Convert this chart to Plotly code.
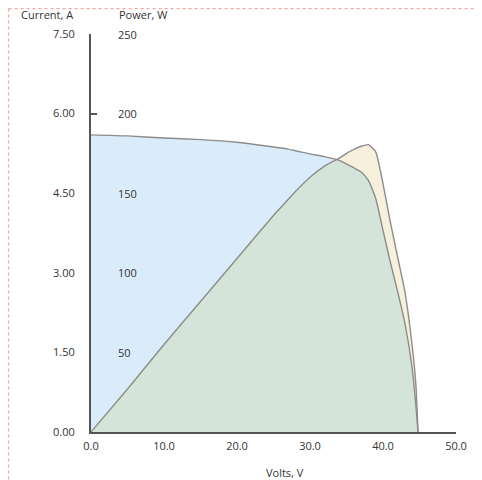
import plotly.graph_objects as go

# ---- data ----
volts = [0, 5, 10, 15, 20, 25, 27, 28, 30, 32, 34, 35, 36, 37, 38, 39, 40, 41, 42, 43, 44, 44.5, 44.8]
current = [5.60, 5.58, 5.54, 5.51, 5.46, 5.37, 5.33, 5.30, 5.24, 5.19, 5.12, 5.05, 4.98, 4.90,
           4.74, 4.40, 3.80, 3.20, 2.65, 2.05, 1.20, 0.50, 0.0]
power = [0, 27, 55, 82, 109, 136, 146, 151, 160, 167, 172, 175, 177.5, 179.5, 180.5, 176,
         156, 132, 110, 88, 54, 30, 0]

x_ticks = [0, 10, 20, 30, 40, 50]
current_ticks = [0, 1.5, 3.0, 4.5, 6.0, 7.5]
power_ticks = [50, 100, 150, 200, 250]
I_MAX = 7.5
P_MAX = 250

# ---- geometry (reference pixel coords; the page body adds an 8px offset) ----
OFF = 8
W, H = 482 - OFF, 480 - OFF
AX_L, AX_R, AX_T, AX_B = 91, 456, 34, 432  # plot area in reference pixels
L, R, T, B = AX_L - OFF, W - (AX_R - OFF), AX_T - OFF, H - (AX_B - OFF)
PW, PH = W - L - R, H - T - B


def px(x):
    return (x - OFF - L) / PW


def py(y):
    return (H - B - (y - OFF)) / PH


scale = P_MAX / I_MAX
current_w = [i * scale for i in current]
overlap = [min(c, p) for c, p in zip(current_w, power)]

BLUE = "#daecf9"
CREAM = "#f6f0dc"
MIX = "#d5e4d9"
LINE = "#8c8c8c"
AX = "#555555"
TXT = "#333333"
FONT = "Open Sans"

fig = go.Figure()
fig.add_trace(go.Scatter(x=volts, y=current, mode="lines", fill="tozeroy",
                         fillcolor=BLUE, line=dict(width=0, shape="spline", smoothing=0.5),
                         hoverinfo="skip", xaxis="x", yaxis="y"))
fig.add_trace(go.Scatter(x=volts, y=power, mode="lines", fill="tozeroy",
                         fillcolor=CREAM, line=dict(width=0, shape="spline", smoothing=0.5),
                         hoverinfo="skip", xaxis="x", yaxis="y2"))
fig.add_trace(go.Scatter(x=volts, y=overlap, mode="lines", fill="tozeroy",
                         fillcolor=MIX, line=dict(width=0), hoverinfo="skip",
                         xaxis="x", yaxis="y2"))
fig.add_trace(go.Scatter(x=volts, y=power, mode="lines",
                         line=dict(color=LINE, width=1.4, shape="spline", smoothing=0.5),
                         xaxis="x", yaxis="y2"))
fig.add_trace(go.Scatter(x=volts, y=current_w, mode="lines",
                         line=dict(color=LINE, width=1.4, shape="spline", smoothing=0.5),
                         xaxis="x", yaxis="y2"))
# invisible trace so the tick-only axes render
fig.add_trace(go.Scatter(x=[None], y=[None], xaxis="x2", yaxis="y3", showlegend=False))

tickfont = dict(family=FONT, size=11, color=TXT)

fig.update_layout(
    width=W, height=H,
    margin=dict(l=L, r=R, t=T, b=B, pad=0, autoexpand=False),
    paper_bgcolor="white", plot_bgcolor="white",
    showlegend=False,
    font=dict(family=FONT, size=11, color=TXT),
    xaxis=dict(range=[0, 50], tickvals=x_ticks, ticktext=[f"{v:.1f}" for v in x_ticks],
               showline=True, linecolor=AX, linewidth=2, ticks="", showgrid=False,
               zeroline=False, tickfont=tickfont, ticklabelstandoff=3),
    xaxis2=dict(range=[0, 50], overlaying="x", anchor="y", side="bottom", tickvals=[50],
                ticks="inside", ticklen=7, tickwidth=2, tickcolor=AX,
                showticklabels=False, showline=False, showgrid=False, zeroline=False),
    yaxis=dict(range=[0, I_MAX], tickvals=current_ticks,
               ticktext=[f"{v:.2f}" for v in current_ticks],
               showline=True, linecolor=AX, linewidth=2, ticks="", showgrid=False,
               zeroline=False, tickfont=tickfont, ticklabelstandoff=12),
    yaxis2=dict(range=[0, P_MAX], overlaying="y", anchor="x", side="left",
                showticklabels=False, ticks="", visible=False,
                showline=False, showgrid=False, zeroline=False),
    yaxis3=dict(range=[0, I_MAX], overlaying="y", anchor="x", side="left",
                tickvals=[6.0, 7.5], ticks="inside", ticklen=6, tickwidth=2, tickcolor=AX,
                showticklabels=False, showline=False, showgrid=False, zeroline=False),
)

# power-axis labels placed on the power scale
for p in power_ticks:
    fig.add_annotation(text=str(p), xref="paper", yref="y2", x=px(116), y=p,
                       xanchor="left", yanchor="middle", showarrow=False, font=tickfont)

fig.add_annotation(text="Current, A", xref="paper", yref="paper", x=px(47), y=py(14),
                   xanchor="center", yanchor="middle", showarrow=False, font=tickfont)
fig.add_annotation(text="Power, W", xref="paper", yref="paper", x=px(143), y=py(14),
                   xanchor="center", yanchor="middle", showarrow=False, font=tickfont)
fig.add_annotation(text="Volts, V", xref="paper", yref="paper", x=px(285), y=py(472),
                   xanchor="center", yanchor="middle", showarrow=False, font=tickfont)

# dotted pink page border (top and left)
fig.add_shape(type="line", xref="paper", yref="paper", x0=px(8.6), x1=px(8.6), y0=py(8.6), y1=py(484),
              line=dict(color="#f2a6a6", width=1.2, dash="dot"))
fig.add_shape(type="line", xref="paper", yref="paper", x0=px(8.6), x1=px(484), y0=py(8.6), y1=py(8.6),
              line=dict(color="#f2a6a6", width=1.2, dash="dot"))

fig.write_html("out.html")
